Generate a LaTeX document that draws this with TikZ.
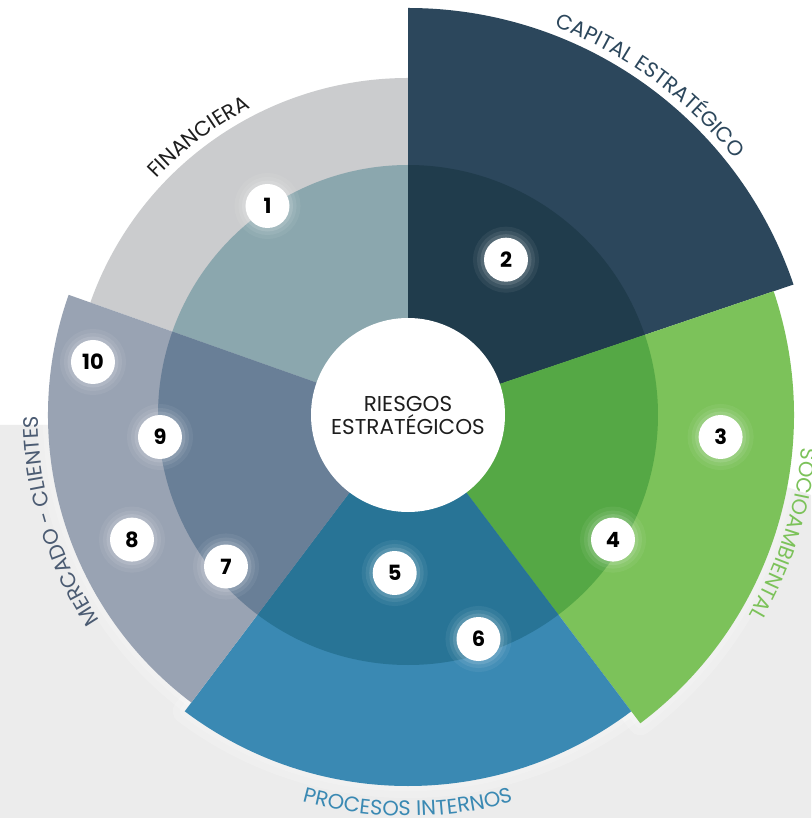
\documentclass[tikz,border=0pt]{standalone}
\usepackage{fontspec}
\setmainfont{Poppins}
\usetikzlibrary{decorations.text}
\definecolor{fingray}{RGB}{203,204,206}
\definecolor{fininner}{RGB}{139,167,174}
\definecolor{capnavy}{RGB}{44,71,92}
\definecolor{capinner}{RGB}{32,60,76}
\definecolor{sociogreen}{RGB}{124,194,90}
\definecolor{socioinner}{RGB}{85,168,69}
\definecolor{procblue}{RGB}{58,137,179}
\definecolor{procinner}{RGB}{40,116,150}
\definecolor{mercgray}{RGB}{153,163,179}
\definecolor{mercinner}{RGB}{105,127,151}
\definecolor{merctext}{RGB}{75,91,114}
\definecolor{bggray}{RGB}{236,236,236}
\definecolor{inkblack}{RGB}{30,30,30}
\newcommand{\arcfont}{\fontsize{21}{24}\selectfont}

\begin{document}
\begin{tikzpicture}[
    x=1pt, y=1pt,
    halo/.style={draw=white, line width=24pt, draw opacity=0.18, line join=round,
        preaction={draw=white, line width=10pt, draw opacity=0.2, line join=round}},
    badge/.style={circle, fill=white, minimum size=44pt, inner sep=0pt, text=black,
        font=\fontsize{21}{21}\selectfont\bfseries,
        preaction={draw=white, line width=22pt, draw opacity=0.06},
        preaction={draw=white, line width=14pt, draw opacity=0.08},
        preaction={draw=white, line width=7pt, draw opacity=0.12}},
    hub/.style={circle, fill=white, minimum size=194pt, inner sep=0pt, align=center,
        font=\fontsize{21.5}{23}\selectfont, text=inkblack},
    arclabel/.style={decorate, decoration={text along path, text align=center}}
]
    \useasboundingbox (-408,-403) rectangle (403,415);

    % Background
    \fill[white] (-408,-403) rectangle (403,415);
    \fill[bggray] (-408,-10) -- (192,-10) -- (403,-80) -- (403,-403) -- (-408,-403) -- cycle;

    % Glow behind the outer sectors
    \draw[halo] (0,0) -- (90:337pt) arc[start angle=90, end angle=160.5, radius=337pt] -- cycle;
    \draw[halo] (0,0) -- (18.7:407pt) arc[start angle=18.7, end angle=90, radius=407pt] -- cycle;
    \draw[halo] (0,0) -- (-53:386pt) arc[start angle=-53, end angle=18.7, radius=386pt] -- cycle;
    \draw[halo] (0,0) -- (-127:371pt) arc[start angle=-127, end angle=-53, radius=371pt] -- cycle;
    \draw[halo] (0,0) -- (160.5:360pt) arc[start angle=160.5, end angle=233, radius=360pt] -- cycle;

    % Outer sectors
    \fill[fingray] (0,0) -- (90:337pt) arc[start angle=90, end angle=160.5, radius=337pt] -- cycle;
    \fill[capnavy] (0,0) -- (18.7:407pt) arc[start angle=18.7, end angle=90, radius=407pt] -- cycle;
    \fill[sociogreen] (0,0) -- (-53:386pt) arc[start angle=-53, end angle=18.7, radius=386pt] -- cycle;
    \fill[procblue] (0,0) -- (-127:371pt) arc[start angle=-127, end angle=-53, radius=371pt] -- cycle;
    \fill[mercgray] (0,0) -- (160.5:360pt) arc[start angle=160.5, end angle=233, radius=360pt] -- cycle;

    % Inner ring
    \fill[fininner] (0,0) -- (90:250pt) arc[start angle=90, end angle=160.5, radius=250pt] -- cycle;
    \fill[capinner] (0,0) -- (18.7:250pt) arc[start angle=18.7, end angle=90, radius=250pt] -- cycle;
    \fill[socioinner] (0,0) -- (-53:250pt) arc[start angle=-53, end angle=18.7, radius=250pt] -- cycle;
    \fill[procinner] (0,0) -- (-127:250pt) arc[start angle=-127, end angle=-53, radius=250pt] -- cycle;
    \fill[mercinner] (0,0) -- (160.5:250pt) arc[start angle=160.5, end angle=233, radius=250pt] -- cycle;

    % Centre
    \node[hub] (hub) at (0,0) {RIESGOS\\ESTRATÉGICOS};

    % Numbered risks
    \node[badge] (r1) at (-140.5,209) {1};
    \node[badge] (r2) at (98,155.3) {2};
    \node[badge] (r3) at (312.6,-22) {3};
    \node[badge] (r4) at (205,-124.6) {4};
    \node[badge] (r5) at (-13.3,-158) {5};
    \node[badge] (r6) at (70.5,-224) {6};
    \node[badge] (r7) at (-182,-151.5) {7};
    \node[badge] (r8) at (-276,-124.6) {8};
    \node[badge] (r9) at (-248,-22) {9};
    \node[badge] (r10) at (-315,53) {10};

    % Curved category labels
    \path[arclabel, decoration={text color=inkblack, text={|\arcfont|FINANCIERA}}]
        (157:345pt) arc[start angle=157, end angle=97, radius=345pt];
    \path[arclabel, decoration={text color=capnavy, text={|\arcfont|CAPITAL ESTRATÉGICO}}]
        (83.7:415pt) arc[start angle=83.7, end angle=23.7, radius=415pt];
    \path[arclabel, decoration={text color=sociogreen, text={|\arcfont|SOCIOAMBIENTAL}}]
        (12.4:395pt) arc[start angle=12.4, end angle=-47.6, radius=395pt];
    \path[arclabel, decoration={text color=procblue, text={|\arcfont|PROCESOS INTERNOS}}]
        (-120:401pt) arc[start angle=-120, end angle=-60, radius=401pt];
    \path[arclabel, decoration={text color=merctext, text={|\arcfont|MERCADO - CLIENTES}}]
        (226.9:370pt) arc[start angle=226.9, end angle=166.9, radius=370pt];
\end{tikzpicture}
\end{document}
